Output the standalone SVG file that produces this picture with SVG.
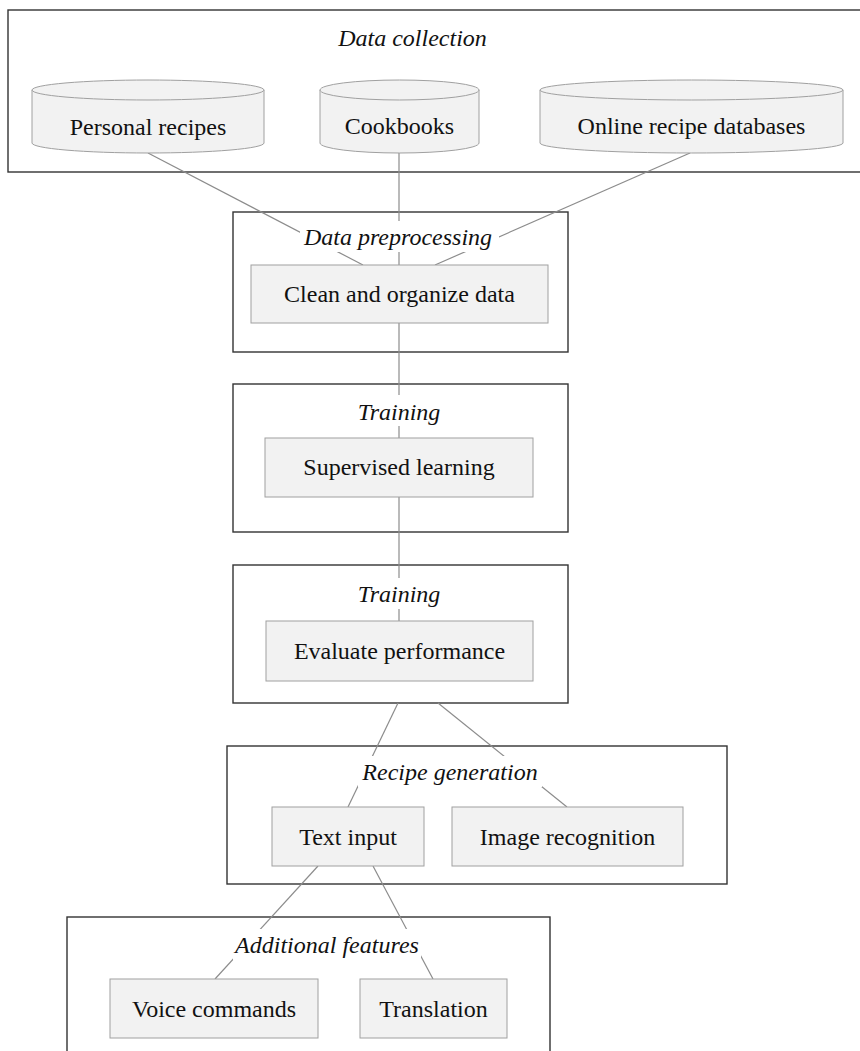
<svg xmlns="http://www.w3.org/2000/svg" width="860" height="1051" viewBox="0 0 860 1051">
<style>
.cluster{fill:none;stroke:#333;stroke-width:1.4}
.node{fill:#f2f2f2;stroke:#a0a0a0;stroke-width:1}
.edge{fill:none;stroke:#8c8c8c;stroke-width:1.2}
.lbg{fill:#fff;stroke:none}
.title{font-family:"Liberation Serif","Times New Roman",serif;font-style:italic;font-size:24px;fill:#111;text-anchor:middle}
.lbl{font-family:"Liberation Serif","Times New Roman",serif;font-size:24px;fill:#111;text-anchor:middle}
</style>
<rect width="860" height="1051" fill="#fff"/>
<g id="clusters">
<g id="cluster-data-collection"><rect class="cluster" x="8" y="10" width="870" height="162"/></g>
<g id="cluster-preprocessing"><rect class="cluster" x="233" y="212" width="335" height="140"/></g>
<g id="cluster-training1"><rect class="cluster" x="233" y="384" width="335" height="148"/></g>
<g id="cluster-training2"><rect class="cluster" x="233" y="565" width="335" height="138"/></g>
<g id="cluster-recipe-generation"><rect class="cluster" x="227" y="746" width="500" height="138"/></g>
<g id="cluster-additional"><rect class="cluster" x="67" y="917" width="483" height="200"/></g>
</g>
<g id="connectors">
<line class="edge" x1="148" y1="153" x2="363" y2="265"/>
<line class="edge" x1="399" y1="153" x2="399" y2="265"/>
<line class="edge" x1="690" y1="153" x2="435" y2="265"/>
<line class="edge" x1="399" y1="323" x2="399" y2="438"/>
<line class="edge" x1="399" y1="497" x2="399" y2="621"/>
<line class="edge" x1="398" y1="703" x2="348" y2="807"/>
<line class="edge" x1="438" y1="703" x2="567" y2="807"/>
<line class="edge" x1="318" y1="866" x2="215" y2="979"/>
<line class="edge" x1="373" y1="866" x2="433" y2="979"/>
</g>
<g id="cluster-titles">
<text class="title" x="412.5" y="46">Data collection</text>
<rect class="lbg" x="300" y="221" width="199" height="31"/>
<text class="title" x="398" y="245">Data preprocessing</text>
<rect class="lbg" x="354" y="395" width="90" height="31"/>
<text class="title" x="399" y="420">Training</text>
<rect class="lbg" x="354" y="578" width="90" height="31"/>
<text class="title" x="399" y="602">Training</text>
<rect class="lbg" x="358" y="756" width="184" height="31"/>
<text class="title" x="450" y="780">Recipe generation</text>
<rect class="lbg" x="233" y="929" width="188" height="31"/>
<text class="title" x="327" y="953">Additional features</text>
</g>
<g id="node-personal-recipes">
<path class="node" d="M32,90 A116,10 0 0 1 264,90 L264,143 A116,10 0 0 1 32,143 Z"/>
<path class="node" fill="none" d="M32,90 A116,10 0 0 0 264,90"/>
<text class="lbl" x="148" y="135">Personal recipes</text>
</g>
<g id="node-cookbooks">
<path class="node" d="M320,90 A79.5,10 0 0 1 479,90 L479,143 A79.5,10 0 0 1 320,143 Z"/>
<path class="node" fill="none" d="M320,90 A79.5,10 0 0 0 479,90"/>
<text class="lbl" x="399.5" y="134">Cookbooks</text>
</g>
<g id="node-online-databases">
<path class="node" d="M540,90 A151.5,10 0 0 1 843,90 L843,143 A151.5,10 0 0 1 540,143 Z"/>
<path class="node" fill="none" d="M540,90 A151.5,10 0 0 0 843,90"/>
<text class="lbl" x="691.5" y="134">Online recipe databases</text>
</g>
<g id="node-clean">
<rect class="node" x="251" y="265" width="297" height="58"/>
<text class="lbl" x="399.5" y="302">Clean and organize data</text>
</g>
<g id="node-supervised">
<rect class="node" x="265" y="438" width="268" height="59"/>
<text class="lbl" x="399" y="475">Supervised learning</text>
</g>
<g id="node-evaluate">
<rect class="node" x="266" y="621" width="267" height="60"/>
<text class="lbl" x="399.5" y="659">Evaluate performance</text>
</g>
<g id="node-text-input">
<rect class="node" x="272" y="807" width="152" height="59"/>
<text class="lbl" x="348" y="845">Text input</text>
</g>
<g id="node-image-recognition">
<rect class="node" x="452" y="807" width="231" height="59"/>
<text class="lbl" x="567.5" y="845">Image recognition</text>
</g>
<g id="node-voice-commands">
<rect class="node" x="110" y="979" width="208" height="59"/>
<text class="lbl" x="214" y="1017">Voice commands</text>
</g>
<g id="node-translation">
<rect class="node" x="360" y="979" width="147" height="59"/>
<text class="lbl" x="433.5" y="1017">Translation</text>
</g>
</svg>
